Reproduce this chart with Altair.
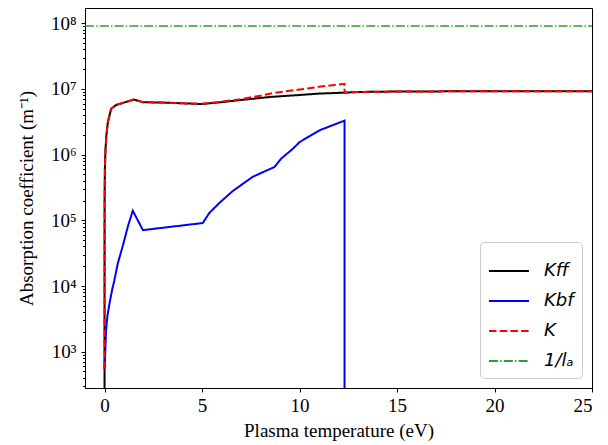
import altair as alt
import pandas as pd

# ---- data ----
series_labels = ["Kff", "Kbf", "K", "1/lₐ"]
series_colors = ["#000000", "#0000ff", "#ff0000", "#2ca02c"]

kff_x = [0, 0.005, 0.02, 0.05, 0.1, 0.17, 0.34, 0.6, 1.0, 1.5, 1.97, 3, 4, 5,
         6, 7, 8, 8.6, 10, 11, 12.31, 13, 15, 20, 25]
kff_y = [10, 2e5, 6e5, 1.2e6, 2.0e6, 3.1e6, 5.0e6, 5.7e6, 6.2e6, 6.9e6, 6.3e6,
         6.2e6, 6.05e6, 5.9e6, 6.3e6, 6.8e6, 7.3e6, 7.6e6, 8.1e6, 8.5e6, 8.8e6,
         9.0e6, 9.15e6, 9.25e6, 9.2e6]

kbf_x = [0, 0.03, 0.08, 0.15, 0.26, 0.4, 0.5, 0.68, 0.94, 1.2, 1.45, 1.97, 5.04,
         5.38, 5.9, 6.58, 7.6, 8.72, 9.06, 9.66, 10, 11.03, 12.31, 12.31]
kbf_y = [5.5e2, 8.3e2, 2.1e3, 3.5e3, 5.5e3, 9e3, 1.2e4, 2.2e4, 4.1e4, 8.1e4,
         1.4e5, 7.1e4, 9.1e4, 1.3e5, 1.85e5, 2.8e5, 4.6e5, 6.5e5, 8.7e5, 1.23e6,
         1.55e6, 2.35e6, 3.3e6, 10]

k_x = [0, 0.005, 0.02, 0.05, 0.1, 0.17, 0.34, 0.6, 1.0, 1.5, 1.97, 3, 4, 5,
       6, 7, 8, 8.6, 9.5, 10, 11, 12.31, 12.31, 13, 15, 20, 25]
k_y = [5.5e2, 2e5, 6e5, 1.2e6, 2.0e6, 3.1e6, 5.0e6, 5.7e6, 6.2e6, 6.9e6, 6.3e6,
       6.2e6, 6.05e6, 5.95e6, 6.4e6, 7.0e6, 7.9e6, 8.6e6, 9.4e6, 9.8e6, 1.08e7,
       1.2e7, 8.8e6, 9.0e6, 9.15e6, 9.25e6, 9.2e6]

la_x = [-1, 25]
la_y = [9.1e7, 9.1e7]

x_ticks = [0, 5, 10, 15, 20, 25]
y_major = [1e3, 1e4, 1e5, 1e6, 1e7, 1e8]
y_minor = [m * 10 ** e for e in range(2, 8) for m in range(2, 10) if 280 <= m * 10 ** e <= 1.71e8]

rows = []
for lab, xs, ys in zip(series_labels, [kff_x, kbf_x, k_x, la_x], [kff_y, kbf_y, k_y, la_y]):
    for i, (xv, yv) in enumerate(zip(xs, ys)):
        rows.append({"series": lab, "t": xv, "k": yv, "idx": i})
df = pd.DataFrame(rows)

is_major = "abs(log(datum.value)/LN10 - round(log(datum.value)/LN10)) < 1e-6"
sup = "['⁰','¹','²','³','⁴','⁵','⁶','⁷','⁸','⁹']"

xenc = alt.X(
    "t:Q",
    scale=alt.Scale(domain=[-1, 25], nice=False, zero=False),
    axis=alt.Axis(values=x_ticks, title="Plasma temperature (eV)", grid=False,
                  tickSize=4, labelPadding=4, titlePadding=6),
)
yenc = alt.Y(
    "k:Q",
    scale=alt.Scale(type="log", domain=[280, 1.71e8], nice=False),
    axis=alt.Axis(
        values=sorted(y_major + y_minor),
        labelExpr=f"{is_major} ? '10' + {sup}[round(log(datum.value)/LN10)] : ''",
        tickSize={"condition": {"test": is_major, "value": 4}, "value": 2.5},
        title="Absorption coefficient (m⁻¹)",
        grid=False, labelOverlap=False, labelFlush=False,
        labelPadding=5, titlePadding=14,
    ),
)
color = alt.Color("series:N", scale=alt.Scale(domain=series_labels, range=series_colors),
                  legend=alt.Legend(title=None))
dash = alt.StrokeDash("series:N",
                      scale=alt.Scale(domain=series_labels,
                                      range=[[1, 0], [1, 0], [7.5, 3.2], [9, 2.2, 1.4, 2.2]]),
                      legend=alt.Legend(title=None))

base = alt.Chart(df)
layers = []
for lab, w in zip(series_labels, [2, 2, 2, 1.4]):
    layers.append(
        base.transform_filter(alt.datum.series == lab)
        .mark_line(clip=True, strokeWidth=w)
        .encode(x=xenc, y=yenc, color=color, strokeDash=dash, order="idx:Q")
    )

chart = (
    alt.layer(*layers)
    .properties(width=507, height=380,
                autosize=alt.AutoSizeParams(type="none"),
                padding={"left": 77, "top": 0, "right": 8, "bottom": 55})
    .configure_view(stroke="#000000", strokeWidth=1)
    .configure_axis(
        labelFont="Liberation Serif", titleFont="Liberation Serif",
        labelFontSize=19, titleFontSize=19, titleFontWeight="normal",
        labelColor="#000000", titleColor="#000000",
        domainColor="#000000", tickColor="#000000",
    )
    .configure_legend(
        orient="bottom-right", offset=10,
        fillColor="#ffffff", strokeColor="#cccccc", cornerRadius=4, padding=8,
        symbolType="stroke", symbolSize=1600, symbolStrokeWidth=2,
        labelFont="DejaVu Sans", labelFontStyle="italic", labelFontSize=18,
        labelColor="#000000", labelOffset=14, rowPadding=0,
    )
)

chart.save("out.html", embed_options={"renderer": "svg", "actions": False})
